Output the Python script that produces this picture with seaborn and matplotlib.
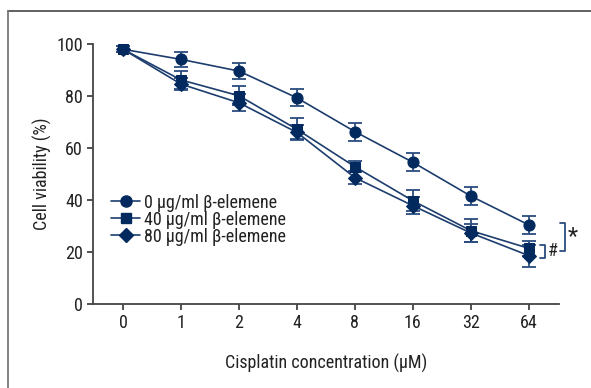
import matplotlib
matplotlib.use("Agg")
import matplotlib.pyplot as plt
import seaborn as sns
import pandas as pd
from matplotlib.lines import Line2D
from matplotlib import font_manager as fm

conc_labels = ["0", "1", "2", "4", "8", "16", "32", "64"]
series_names = ["0 μg/ml β-elemene", "40 μg/ml β-elemene", "80 μg/ml β-elemene"]
viab_0 = [98.0, 94.1, 89.6, 79.3, 66.3, 54.5, 41.5, 30.4]
viab_40 = [98.0, 86.2, 80.1, 67.2, 52.8, 39.7, 28.2, 21.4]
viab_80 = [98.0, 84.6, 77.4, 66.0, 48.6, 37.8, 27.3, 18.6]
err_0 = [1.2, 2.9, 3.0, 3.3, 3.5, 3.5, 3.5, 3.5]
err_40 = [1.2, 3.4, 3.7, 4.2, 2.2, 4.0, 4.5, 3.0]
err_80 = [1.2, 2.2, 3.2, 2.7, 2.6, 3.2, 3.3, 4.2]

sns.set_theme(style="white")
installed = set(f.name for f in fm.fontManager.ttflist)
prefs = ['Roboto Condensed', 'Fira Sans Condensed', 'Archivo Narrow', 'Barlow Semi Condensed']
fams = [f for f in prefs if f in installed][:1] + ['DejaVu Sans']
plt.rcParams['font.family'] = fams

navy = "#032a5e"
line_c = "#1c3d6e"
err_c = "#2b4c7e"

rows = []
for name, vals in zip(series_names, [viab_0, viab_40, viab_80]):
    for i, v in enumerate(vals):
        rows.append({"pos": i, "viab": v, "series": name})
df = pd.DataFrame(rows)

fig = plt.figure(figsize=(5.91, 3.88), dpi=100)
ax = fig.add_axes([0.157, 0.2165, 0.789, 0.670])

markers = {"0 μg/ml β-elemene": "o", "40 μg/ml β-elemene": "s", "80 μg/ml β-elemene": "D"}
msizes = {"0 μg/ml β-elemene": 8, "40 μg/ml β-elemene": 7.5, "80 μg/ml β-elemene": 7}

for name, vals, errs in zip(series_names, [viab_0, viab_40, viab_80], [err_0, err_40, err_80]):
    sub = df[df.series == name]
    ax.errorbar(sub["pos"], sub["viab"], yerr=errs, fmt="none", ecolor=err_c,
                elinewidth=1.3, capsize=5, capthick=1.3, zorder=2)
    sns.lineplot(data=sub, x="pos", y="viab", ax=ax, color=line_c, linewidth=1.2,
                 marker=markers[name], markersize=msizes[name], markerfacecolor=navy,
                 markeredgecolor=navy, legend=False, zorder=3)

fs = 13
ax.set_xlim(-0.52, 7.52)
ax.set_ylim(0, 100)
ax.set_xticks(range(len(conc_labels)))
ax.set_xticklabels(conc_labels)
ax.set_yticks([0, 20, 40, 60, 80, 100])
ax.tick_params(axis="both", labelsize=fs, colors="#333333", length=4, width=1.2,
               direction="out", left=True, bottom=True, pad=3)
for lab in ax.get_xticklabels() + ax.get_yticklabels():
    lab.set_color("#222222")
for s in ["top", "right"]:
    ax.spines[s].set_visible(False)
for s in ["left", "bottom"]:
    ax.spines[s].set_color("#444444")
    ax.spines[s].set_linewidth(1.3)
ax.set_xlabel("Cisplatin concentration (μM)", fontsize=fs, color="#222222", labelpad=16)
ax.set_ylabel("Cell viability (%)", fontsize=fs, color="#222222", labelpad=3)

handles = [Line2D([0], [0], color=line_c, lw=1.2, marker=markers[n], markersize=msizes[n],
                  markerfacecolor=navy, markeredgecolor=navy) for n in series_names]
leg = ax.legend(handles, series_names, loc="upper left", bbox_to_anchor=(0.04, 0.425),
                frameon=False, fontsize=fs, handlelength=1.6, handletextpad=0.2,
                labelspacing=-0.05, borderaxespad=0, borderpad=0)
for t in leg.get_texts():
    t.set_color("#222222")

# significance brackets
def bracket(x, y0, y1, text, tx, size):
    ax.plot([x - 0.09, x, x, x - 0.09], [y1, y1, y0, y0], color=err_c, lw=1.3, clip_on=False)
    ax.text(tx, (y0 + y1) / 2, text, fontsize=size, color="#222222", va="center", ha="left",
            clip_on=False)

bracket(7.62, 20.4, 31.3, "*", 7.67, fs + 4)
bracket(7.28, 17.8, 22.7, "#", 7.33, fs)

# outer frame lines (top and left)
fig.add_artist(Line2D([8 / 591, 1], [1 - 11 / 388, 1 - 11 / 388], color="#555555", lw=1.3,
                      transform=fig.transFigure))
fig.add_artist(Line2D([8 / 591, 8 / 591], [0, 1 - 11 / 388], color="#777777", lw=1.3,
                      transform=fig.transFigure))

fig.savefig("out.png", dpi=100)
